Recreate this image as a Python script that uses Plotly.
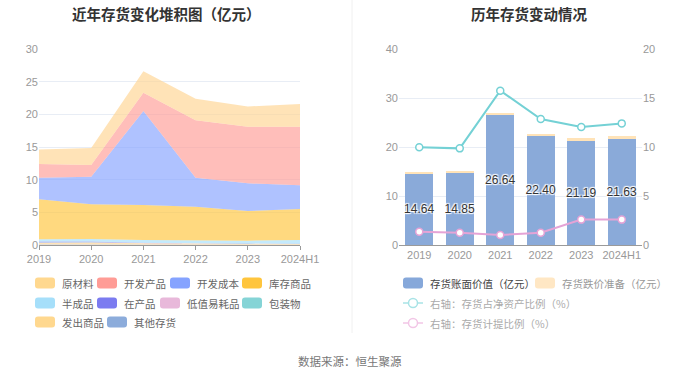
import plotly.graph_objects as go

W, H = 700, 378

# ---------------- data ----------------
years = ['2019', '2020', '2021', '2022', '2023', '2024H1']

# left chart: stacked inventory composition (亿元)
raw_material = [2.20, 2.60, 3.30, 3.30, 3.10, 3.50]   # 原材料
dev_products = [2.10, 1.80, 2.80, 8.80, 8.66, 8.97]   # 开发产品
dev_cost = [3.30, 4.24, 14.38, 4.43, 4.24, 3.63]      # 开发成本
goods = [6.13, 5.30, 5.35, 5.21, 4.54, 4.73]          # 库存商品
semi_finished = [0.35, 0.38, 0.42, 0.40, 0.45, 0.55]  # 半成品
wip = [0.12, 0.10, 0.05, 0.02, 0.02, 0.02]            # 在产品
low_value = [0.02, 0.02, 0.02, 0.02, 0.02, 0.02]      # 低值易耗品
packaging = [0.02, 0.02, 0.02, 0.02, 0.02, 0.02]      # 包装物
shipped = [0.30, 0.35, 0.22, 0.16, 0.12, 0.13]        # 发出商品
other_inv = [0.06, 0.05, 0.04, 0.04, 0.03, 0.03]      # 其他存货

# right chart
book_value = [14.64, 14.85, 26.64, 22.40, 21.19, 21.63]      # 存货账面价值（亿元）
impairment = [0.20, 0.19, 0.27, 0.29, 0.56, 0.57]            # 存货跌价准备（亿元）
ratio_net_assets = [9.97, 9.86, 15.75, 12.86, 12.04, 12.41]  # 存货占净资产比例（%）
impair_ratio = [1.36, 1.26, 1.02, 1.26, 2.59, 2.59]          # 存货计提比例（%）

# ---------------- styles ----------------
NUM_FONT = "Liberation Sans, Arial, Noto Sans CJK SC, sans-serif"
CJK_FONT = "Noto Sans CJK SC, Microsoft YaHei, sans-serif"

area_series = [  # bottom -> top
    ('其他存货', other_inv, '#8CACDB'),
    ('发出商品', shipped, '#FFD591'),
    ('包装物', packaging, '#85D4D6'),
    ('低值易耗品', low_value, '#E8B8DA'),
    ('在产品', wip, '#7B7BF0'),
    ('半成品', semi_finished, '#A6DFFA'),
    ('库存商品', goods, '#FFC53D'),
    ('开发成本', dev_cost, '#85A3FF'),
    ('开发产品', dev_products, '#FF9C96'),
    ('原材料', raw_material, '#FFD591'),
]


def rgba(hexc, a):
    hexc = hexc.lstrip('#')
    r, g, b = int(hexc[0:2], 16), int(hexc[2:4], 16), int(hexc[4:6], 16)
    return f'rgba({r},{g},{b},{a})'


fig = go.Figure()

for name, vals, col in area_series:
    fig.add_trace(go.Scatter(
        x=years, y=vals, name=name, stackgroup='one', mode='lines',
        line=dict(width=0, color=col), fillcolor=rgba(col, 0.66),
        xaxis='x', yaxis='y', showlegend=False, hoverinfo='skip'))

fig.add_trace(go.Bar(
    x=years, y=book_value, name='存货账面价值（亿元）', marker=dict(color='#8AAAD9', line=dict(width=0)),
    texttemplate='%{y:.2f}', textposition='inside', insidetextanchor='middle', textangle=0,
    constraintext='none',
    textfont=dict(family=NUM_FONT, size=12, color='#333333',
                  shadow='1px 1px 1px #fff, -1px -1px 1px #fff, 1px -1px 1px #fff, -1px 1px 1px #fff'),
    xaxis='x2', yaxis='y2', showlegend=False, hoverinfo='skip'))
fig.add_trace(go.Bar(
    x=years, y=impairment, name='存货跌价准备（亿元）', marker=dict(color='#FFE3B8', line=dict(width=0)),
    xaxis='x2', yaxis='y2', showlegend=False, hoverinfo='skip'))
fig.add_trace(go.Scatter(
    x=years, y=ratio_net_assets, mode='lines+markers', name='右轴：存货占净资产比例（%）',
    line=dict(color='#74D1D5', width=2),
    marker=dict(symbol='circle', size=7, color='white', line=dict(color='#74D1D5', width=1.5)),
    xaxis='x2', yaxis='y3', showlegend=False, hoverinfo='skip'))
fig.add_trace(go.Scatter(
    x=years, y=impair_ratio, mode='lines+markers', name='右轴：存货计提比例（%）',
    line=dict(color='#E5A3D6', width=2),
    marker=dict(symbol='circle', size=7, color='white', line=dict(color='#E5A3D6', width=1.5)),
    xaxis='x2', yaxis='y3', showlegend=False, hoverinfo='skip'))


def px(x):
    return x / W


def py(y):
    return 1 - y / H


GRID = '#E8EDF5'
TICKC = '#999999'

fig.update_layout(
    width=W, height=H, margin=dict(l=0, r=0, t=0, b=0, pad=0, autoexpand=False),
    showlegend=False,
    paper_bgcolor='white', plot_bgcolor='white',
    barmode='stack', bargap=0.32,
    font=dict(family=NUM_FONT, size=11, color=TICKC),
    xaxis=dict(domain=[px(39), px(300)], type='category', range=[0, 5],
               showline=True, linecolor='#9A9A9A', linewidth=1,
               ticks='outside', ticklen=4, tickcolor='#9A9A9A', automargin=False,
               showgrid=False, tickfont=dict(size=11, color=TICKC), anchor='y'),
    yaxis=dict(domain=[py(245), py(49)], range=[0, 30], dtick=5, automargin=False,
               showgrid=True, gridcolor=GRID, gridwidth=1, zeroline=False,
               showline=False, tickfont=dict(size=11, color=TICKC), anchor='x'),
    xaxis2=dict(domain=[px(399), px(642)], type='category', range=[-0.5, 5.5],
                showline=True, linecolor='#9A9A9A', linewidth=1, ticks='', automargin=False,
                showgrid=False, tickfont=dict(size=11, color=TICKC), anchor='y2'),
    yaxis2=dict(domain=[py(245), py(49)], range=[0, 40], dtick=10, automargin=False,
                showgrid=True, gridcolor=GRID, zeroline=False, showline=False,
                tickfont=dict(size=11, color=TICKC), anchor='x2'),
    yaxis3=dict(overlaying='y2', side='right', range=[0, 20], dtick=5, automargin=False,
                showgrid=False, zeroline=False, showline=False,
                tickfont=dict(size=11, color=TICKC), anchor='x2'),
)

shapes = []
annotations = []

# divider
shapes.append(dict(type='line', xref='paper', yref='paper', x0=px(352), x1=px(352),
                   y0=py(0), y1=py(333), line=dict(color='#F0F0F0', width=1)))

# titles
annotations.append(dict(text='<b>近年存货变化堆积图（亿元）</b>', x=px(166), y=py(13), xref='paper', yref='paper',
                        showarrow=False, xanchor='center', yanchor='middle',
                        font=dict(family=CJK_FONT, size=14.5, color='#333333')))
annotations.append(dict(text='<b>历年存货变动情况</b>', x=px(529), y=py(13), xref='paper', yref='paper',
                        showarrow=False, xanchor='center', yanchor='middle',
                        font=dict(family=CJK_FONT, size=14.5, color='#333333')))

# footer
annotations.append(dict(text='数据来源：恒生聚源', x=px(350), y=py(361), xref='paper', yref='paper',
                        showarrow=False, xanchor='center', yanchor='middle',
                        font=dict(family=CJK_FONT, size=11.5, color='#777777')))


def rrect(x0, yc, w, h, r, color):
    x1 = x0 + w
    y0 = yc - h / 2
    y1 = yc + h / 2
    pts = [
        f'M{px(x0 + r)},{py(y0)}', f'L{px(x1 - r)},{py(y0)}', f'Q{px(x1)},{py(y0)} {px(x1)},{py(y0 + r)}',
        f'L{px(x1)},{py(y1 - r)}', f'Q{px(x1)},{py(y1)} {px(x1 - r)},{py(y1)}',
        f'L{px(x0 + r)},{py(y1)}', f'Q{px(x0)},{py(y1)} {px(x0)},{py(y1 - r)}',
        f'L{px(x0)},{py(y0 + r)}', f'Q{px(x0)},{py(y0)} {px(x0 + r)},{py(y0)}', 'Z']
    return dict(type='path', xref='paper', yref='paper', path=' '.join(pts),
                fillcolor=color, line=dict(width=0))


LEG_FONT = dict(family=CJK_FONT, size=10.5, color='#666666')

# left legend: (label, color, icon x, row y)
left_legend = [
    ('原材料', '#FFD88F', 35, 283), ('开发产品', '#FF9C96', 97, 283),
    ('开发成本', '#85A3FF', 170, 283), ('库存商品', '#FFC53D', 242, 283),
    ('半成品', '#A6DFFA', 35, 303), ('在产品', '#7B7BF0', 97, 303),
    ('低值易耗品', '#E8B8DA', 160, 303), ('包装物', '#85D4D6', 242, 303),
    ('发出商品', '#FFD88F', 35, 322), ('其他存货', '#8CACDB', 107, 322),
]
for label, col, x0, yc in left_legend:
    shapes.append(rrect(x0, yc, 20, 11, 3, col))
    annotations.append(dict(text=label, x=px(x0 + 25), y=py(yc), xref='paper', yref='paper',
                            showarrow=False, xanchor='left', yanchor='middle', font=LEG_FONT))

# right legend
shapes.append(rrect(403, 283, 20, 11, 3, '#86A8DA'))
annotations.append(dict(text='存货账面价值（亿元）', x=px(428), y=py(283), xref='paper', yref='paper',
                        showarrow=False, xanchor='left', yanchor='middle',
                        font=dict(family=CJK_FONT, size=10.5, color='#444444')))
shapes.append(rrect(535, 283, 20, 11, 3, '#FFE7C4'))
annotations.append(dict(text='存货跌价准备（亿元）', x=px(560), y=py(283), xref='paper', yref='paper',
                        showarrow=False, xanchor='left', yanchor='middle',
                        font=dict(family=CJK_FONT, size=10.5, color='#999999')))

for yc, col, label in [(303, '#A8E3E6', '右轴：存货占净资产比例（%）'),
                       (323, '#F2C6E6', '右轴：存货计提比例（%）')]:
    shapes.append(dict(type='line', xref='paper', yref='paper', x0=px(403), x1=px(423),
                       y0=py(yc), y1=py(yc), line=dict(color=col, width=1.5)))
    shapes.append(dict(type='circle', xref='paper', yref='paper', x0=px(408.5), x1=px(417.5),
                       y0=py(yc + 4.5), y1=py(yc - 4.5), fillcolor='white', line=dict(color=col, width=1.5)))
    annotations.append(dict(text=label, x=px(428), y=py(yc), xref='paper', yref='paper',
                            showarrow=False, xanchor='left', yanchor='middle',
                            font=dict(family=CJK_FONT, size=10.5, color='#AAAAAA')))

fig.update_layout(shapes=shapes, annotations=annotations)

fig.write_html("out.html", config={'displayModeBar': False},
               post_script="document.body.style.margin='0';document.body.style.padding='0';"
                           "document.body.style.overflow='hidden';")
